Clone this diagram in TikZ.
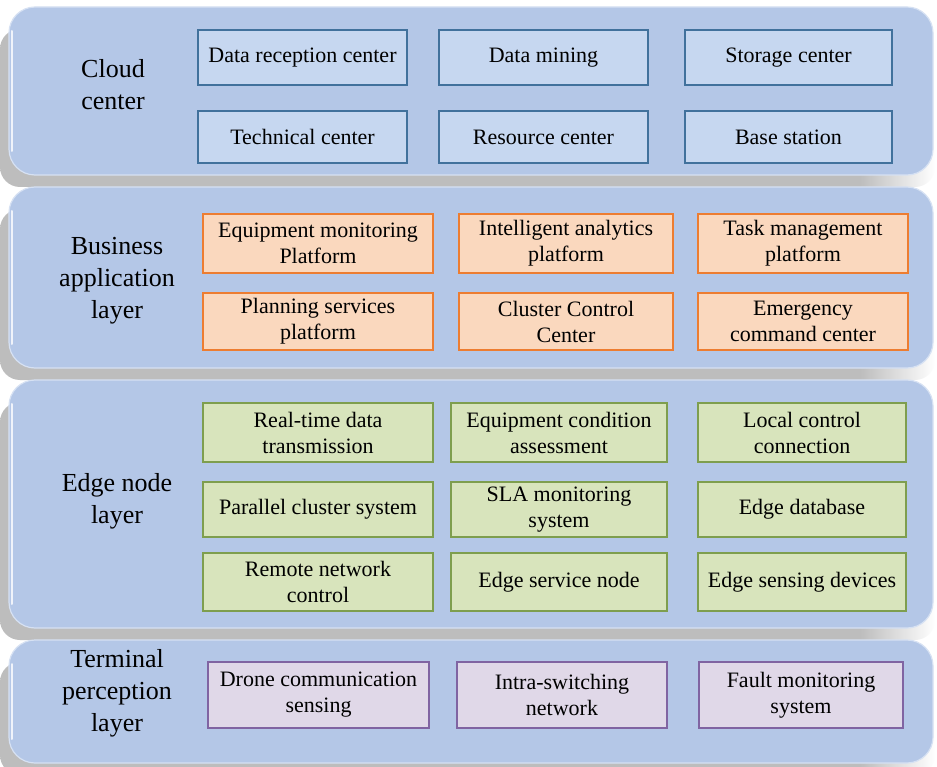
\documentclass[tikz,border=0pt]{standalone}
\usepackage{fontspec}
\setmainfont{Liberation Serif}
\usetikzlibrary{positioning}

\definecolor{layerblue}{HTML}{B4C7E7}
\definecolor{layeredge}{HTML}{D6E1F3}
\definecolor{shgray}{HTML}{BDBDBD}
\definecolor{cloudfill}{HTML}{C6D7F0}
\definecolor{clouddraw}{HTML}{41719C}
\definecolor{bizfill}{HTML}{FAD8BE}
\definecolor{bizdraw}{HTML}{ED7D31}
\definecolor{edgefill}{HTML}{D8E4BC}
\definecolor{edgedraw}{HTML}{7E9E4E}
\definecolor{termfill}{HTML}{E0D8E8}
\definecolor{termdraw}{HTML}{8064A2}

% shadow fading to white at the right end
\pgfdeclarehorizontalshading{shadowfade}{100bp}{color(0bp)=(shgray); color(25bp)=(shgray); color(71bp)=(shgray); color(75bp)=(white); color(100bp)=(white)}

\tikzset{
  layerbox/.style={fill=layerblue, draw=layeredge, line width=1.2pt, rounded corners=26pt, inner sep=0pt},
  layertitle/.style={font=\fontsize{26}{32}\selectfont, align=center, inner sep=0pt},
  itembox/.style={line width=1.5pt, inner sep=0pt, align=center, font=\fontsize{22}{26}\selectfont},
  cloudbox/.style={itembox, fill=cloudfill, draw=clouddraw},
  bizbox/.style={itembox, fill=bizfill, draw=bizdraw},
  edgebox/.style={itembox, fill=edgefill, draw=edgedraw},
  termbox/.style={itembox, fill=termfill, draw=termdraw},
}

\begin{document}
\begin{tikzpicture}[x=1pt, y=-1pt]
\useasboundingbox (0,0) rectangle (937,767);
\fill[white] (0,0) rectangle (937,767);

% soft shadows under the four layers
\foreach \t/\b in {7/175, 187/368, 380/628, 640/763}{
  \shade[shading=shadowfade, shading angle=0, rounded corners=20pt] (0,\t+22) rectangle (935,\b+12);
}

% layers
\node[layerbox, minimum width=924pt, minimum height=168pt] (L1) at (471,91) {};
\node[layerbox, minimum width=924pt, minimum height=181pt] (L2) at (471,277.5) {};
\node[layerbox, minimum width=924pt, minimum height=248pt] (L3) at (471,504) {};
\node[layerbox, minimum width=924pt, minimum height=123pt] (L4) at (471,701.5) {};

% glossy highlight on the left edges
\foreach \t/\b in {7/175, 187/368, 380/628, 640/763}{
  \draw[white, opacity=0.8, line width=2pt, line cap=round] (12,\t+24) -- (12,\b-24);
}

% layer titles
\node[layertitle] (T1) at (113,85) {Cloud\\center};
\node[layertitle] (T2) at (117,281) {Business\\application\\layer};
\node[layertitle] (T3) at (117,501) {Edge node\\layer};
\node[layertitle] (T4) at (117,693) {Terminal\\perception\\layer};

% cloud center
\node[cloudbox, minimum width=209pt, minimum height=55pt] (c11) at (302.5,57.5) {Data reception center};
\node[cloudbox, minimum width=209pt, minimum height=55pt] (c12) at (543.5,57.5) {Data mining};
\node[cloudbox, minimum width=207pt, minimum height=55pt] (c13) at (788.5,57.5) {Storage center};
\node[cloudbox, minimum width=209pt, minimum height=52pt] (c21) at (302.5,137) {Technical center};
\node[cloudbox, minimum width=209pt, minimum height=52pt] (c22) at (543.5,137) {Resource center};
\node[cloudbox, minimum width=207pt, minimum height=52pt] (c23) at (788.5,137) {Base station};

% business application layer
\node[bizbox, minimum width=230pt, minimum height=59pt] (b11) at (318,243.5) {Equipment monitoring\\Platform};
\node[bizbox, minimum width=214pt, minimum height=59pt] (b12) at (566,243.5) {Intelligent analytics\\platform};
\node[bizbox, minimum width=210pt, minimum height=59pt] (b13) at (803,243.5) {Task management\\platform};
\node[bizbox, minimum width=230pt, minimum height=57pt] (b21) at (318,321.5) {Planning services\\platform};
\node[bizbox, minimum width=214pt, minimum height=57pt] (b22) at (566,321.5) {Cluster Control\\Center};
\node[bizbox, minimum width=210pt, minimum height=57pt] (b23) at (803,321.5) {Emergency\\command center};

% edge node layer
\node[edgebox, minimum width=230pt, minimum height=59pt] (e11) at (318,432.5) {Real-time data\\transmission};
\node[edgebox, minimum width=216pt, minimum height=59pt] (e12) at (559,432.5) {Equipment condition\\assessment};
\node[edgebox, minimum width=208pt, minimum height=59pt] (e13) at (802,432.5) {Local control\\connection};
\node[edgebox, minimum width=230pt, minimum height=55pt] (e21) at (318,509.5) {Parallel cluster system};
\node[edgebox, minimum width=216pt, minimum height=55pt] (e22) at (559,509.5) {SLA monitoring\\system};
\node[edgebox, minimum width=208pt, minimum height=55pt] (e23) at (802,509.5) {Edge database};
\node[edgebox, minimum width=230pt, minimum height=58pt] (e31) at (318,582) {Remote network\\control};
\node[edgebox, minimum width=216pt, minimum height=58pt] (e32) at (559,582) {Edge service node};
\node[edgebox, minimum width=208pt, minimum height=58pt] (e33) at (802,582) {Edge sensing devices};

% terminal perception layer
\node[termbox, minimum width=221pt, minimum height=66pt] (t1) at (318.5,695) {Drone communication\\sensing};
\node[termbox, minimum width=210pt, minimum height=66pt] (t2) at (562,695) {Intra-switching\\network};
\node[termbox, minimum width=204pt, minimum height=66pt] (t3) at (801,695) {Fault monitoring\\system};
\end{tikzpicture}
\end{document}
